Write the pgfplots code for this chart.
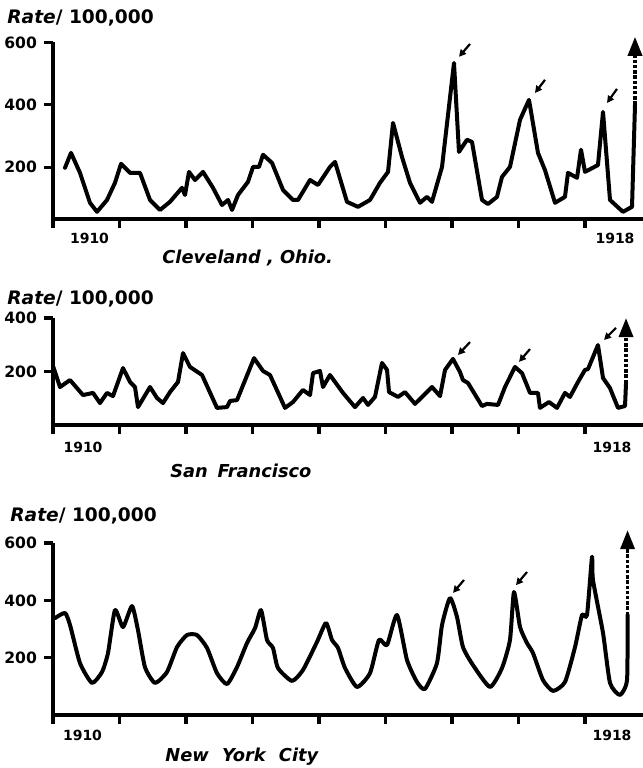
\documentclass[border=0pt]{standalone}
\usepackage{fontspec}
\setmainfont{DejaVu Sans}
\usepackage{pgfplots}
\pgfplotsset{compat=1.18}
\usetikzlibrary{arrows.meta}

\newcommand{\ratefont}{\fontsize{9.3}{11}\selectfont\bfseries}
\newcommand{\cityfont}{\fontsize{8.9}{10}\selectfont\bfseries\itshape}
\newcommand{\tickfont}{\fontsize{7.8}{9}\selectfont\bfseries}
\newcommand{\yearfont}{\fontsize{7}{8}\selectfont\bfseries}

\tikzset{
  rate/.style={line width=2pt, line join=round, line cap=round, black},
  offscale/.style={line width=1.7pt, black, dash pattern=on 1.7pt off 0.9pt,
    -{Triangle[length=9.5pt,width=7pt]}},
  pointer/.style={line width=1.1pt, black, -{Triangle[length=3.5pt,width=3.5pt]}},
}
\pgfplotsset{
  panel/.style={
    scale only axis,
    width=295pt,
    xmin=1910, xmax=1918.872,
    axis x line=bottom, axis y line=left,
    axis line style={-, line width=1.8pt},
    every outer x axis line/.append style={-},
    every outer y axis line/.append style={-},
    tick align=outside,
    major tick length=4.5pt,
    tick style={line width=1.6pt, black},
    xtick={1910,...,1918},
    xticklabels={},
    yticklabel style={font=\tickfont},
    clip=false,
    anchor=south west,
  },
}

\begin{document}
\begin{tikzpicture}
\path[use as bounding box] (0,0) rectangle (321.5pt,-384pt);

% ---------------- Cleveland, Ohio ----------------
\begin{axis}[panel, at={(26.5pt,-109.5pt)}, height=88.3pt,
  ymin=34, ymax=600, ytick={200,400,600}, yticklabels={200,400,600}]
\addplot[rate] coordinates {
 (1910.180,198) (1910.271,246) (1910.406,182) (1910.556,86) (1910.662,57)
 (1910.812,95) (1910.932,150) (1911.023,211) (1911.158,182) (1911.308,182)
 (1911.459,95) (1911.609,63) (1911.759,89) (1911.940,134) (1911.985,111)
 (1912.045,185) (1912.135,159) (1912.256,185) (1912.406,134) (1912.541,79)
 (1912.632,95) (1912.692,63) (1912.782,111) (1912.932,153) (1913.008,201)
 (1913.098,201) (1913.158,240) (1913.293,214) (1913.459,127) (1913.609,95)
 (1913.684,95) (1913.865,159) (1913.985,143) (1914.165,201) (1914.241,217)
 (1914.421,89) (1914.586,73) (1914.767,95) (1914.917,150) (1915.038,185)
 (1915.113,342) (1915.248,233) (1915.368,150) (1915.519,86) (1915.624,105)
 (1915.699,89) (1915.850,201) (1916.030,534) (1916.105,249) (1916.226,288)
 (1916.301,281) (1916.451,95) (1916.541,82) (1916.677,105) (1916.752,169)
 (1916.872,201) (1917.023,352) (1917.158,416) (1917.293,246) (1917.398,191)
 (1917.549,86) (1917.699,105) (1917.744,182) (1917.880,166) (1917.940,256)
 (1918.000,185) (1918.195,207) (1918.271,377) (1918.376,95) (1918.571,57)
 (1918.707,73) (1918.752,400)
};
\addplot[offscale] coordinates {(1918.752,400) (1918.752,618)};
\draw[pointer] (axis cs:1916.271,595) -- (axis cs:1916.105,554);
\draw[pointer] (axis cs:1917.398,480) -- (axis cs:1917.248,438);
\draw[pointer] (axis cs:1918.481,451) -- (axis cs:1918.331,406);
\end{axis}

% ---------------- San Francisco ----------------
\begin{axis}[panel, at={(26.5pt,-212.5pt)}, height=53.5pt,
  ymin=0, ymax=400, ytick={200,400}, yticklabels={200,400}]
\addplot[rate] coordinates {
 (1910.000,221) (1910.105,142) (1910.256,168) (1910.451,112) (1910.602,120)
 (1910.707,82) (1910.812,120) (1910.902,108) (1911.053,213) (1911.158,161)
 (1911.233,142) (1911.278,67) (1911.459,142) (1911.564,101) (1911.654,82)
 (1911.759,123) (1911.880,161) (1911.955,269) (1912.060,217) (1912.241,187)
 (1912.466,64) (1912.617,67) (1912.662,90) (1912.767,93) (1913.023,250)
 (1913.158,202) (1913.263,187) (1913.489,64) (1913.609,86) (1913.759,131)
 (1913.865,112) (1913.910,194) (1914.015,202) (1914.060,142) (1914.165,187)
 (1914.361,120) (1914.541,67) (1914.662,101) (1914.737,75) (1914.842,105)
 (1914.947,232) (1915.023,206) (1915.053,123) (1915.188,105) (1915.293,123)
 (1915.444,79) (1915.699,142) (1915.820,108) (1915.895,206) (1916.015,247)
 (1916.120,198) (1916.165,168) (1916.241,157) (1916.451,71) (1916.526,79)
 (1916.692,75) (1916.797,142) (1916.947,217) (1917.053,194) (1917.173,120)
 (1917.293,120) (1917.323,64) (1917.459,86) (1917.579,64) (1917.699,120)
 (1917.774,105) (1917.895,161) (1918.000,206) (1918.045,209) (1918.195,299)
 (1918.271,176) (1918.376,138) (1918.496,64) (1918.602,71) (1918.617,157)
};
\addplot[offscale] coordinates {(1918.617,157) (1918.617,400)};
\draw[pointer] (axis cs:1916.271,310) -- (axis cs:1916.090,262);
\draw[pointer] (axis cs:1917.173,284) -- (axis cs:1917.008,236);
\draw[pointer] (axis cs:1918.466,363) -- (axis cs:1918.286,318);
\end{axis}

% ---------------- New York City ----------------
\begin{axis}[panel, at={(26.5pt,-357.5pt)}, height=86pt,
  ymin=0, ymax=600, ytick={200,400,600}, yticklabels={200,400,600}]
\addplot[rate, smooth, tension=0.35] coordinates {
 (1910.030,338) (1910.180,356) (1910.256,314) (1910.406,181) (1910.586,112)
 (1910.737,150) (1910.827,216) (1910.932,366) (1911.053,307) (1911.188,380)
 (1911.278,296) (1911.383,167) (1911.534,112) (1911.714,150) (1911.865,237)
 (1912.015,279) (1912.165,279) (1912.316,234) (1912.466,146) (1912.617,108)
 (1912.767,167) (1912.917,251) (1913.038,303) (1913.128,366) (1913.218,262)
 (1913.308,234) (1913.383,164) (1913.594,119) (1913.759,157) (1913.970,255)
 (1914.105,321) (1914.195,262) (1914.286,234) (1914.391,164) (1914.571,98)
 (1914.767,146) (1914.902,262) (1915.023,244) (1915.173,349) (1915.323,192)
 (1915.474,115) (1915.594,91) (1915.774,181) (1915.850,314) (1915.970,408)
 (1916.075,342) (1916.165,237) (1916.316,174) (1916.571,98) (1916.752,164)
 (1916.872,262) (1916.932,429) (1917.023,307) (1917.128,251) (1917.218,216)
 (1917.368,122) (1917.519,84) (1917.699,115) (1917.850,237) (1917.955,349)
 (1918.030,349) (1918.105,551) (1918.120,471) (1918.271,286) (1918.376,112)
 (1918.526,70) (1918.632,122) (1918.640,349)
};
\addplot[offscale] coordinates {(1918.640,349) (1918.640,645)};
\draw[pointer] (axis cs:1916.180,471) -- (axis cs:1916.015,426);
\draw[pointer] (axis cs:1917.128,499) -- (axis cs:1916.962,453);
\end{axis}

% ---------------- titles, year labels, city names ----------------
\begin{scope}[every node/.style={inner sep=0pt}]
\node[anchor=base west, font=\ratefont] at (3.5pt,-11.5pt) {\textit{Rate}/ 100,000};
\node[anchor=base west, font=\ratefont] at (3.5pt,-152pt) {\textit{Rate}/ 100,000};
\node[anchor=base west, font=\ratefont] at (5pt,-260.5pt) {\textit{Rate}/ 100,000};

\node[anchor=base, font=\yearfont] at (44.75pt,-121.5pt) {1910};
\node[anchor=base, font=\yearfont] at (307.5pt,-121.5pt) {1918};
\node[anchor=base, font=\yearfont] at (41.5pt,-226pt) {1910};
\node[anchor=base, font=\yearfont] at (306pt,-226pt) {1918};
\node[anchor=base, font=\yearfont] at (41.25pt,-370pt) {1910};
\node[anchor=base, font=\yearfont] at (306pt,-370pt) {1918};

\node[anchor=base west, font=\cityfont] at (81pt,-131.5pt) {Cleveland , Ohio.};
\node[anchor=base west, font=\cityfont] at (85pt,-238.5pt) {San\hspace{0.55em}Francisco};
\node[anchor=base west, font=\cityfont] at (82.5pt,-380.5pt) {New\hspace{0.75em}York\hspace{0.75em}City};
\end{scope}
\end{tikzpicture}
\end{document}
